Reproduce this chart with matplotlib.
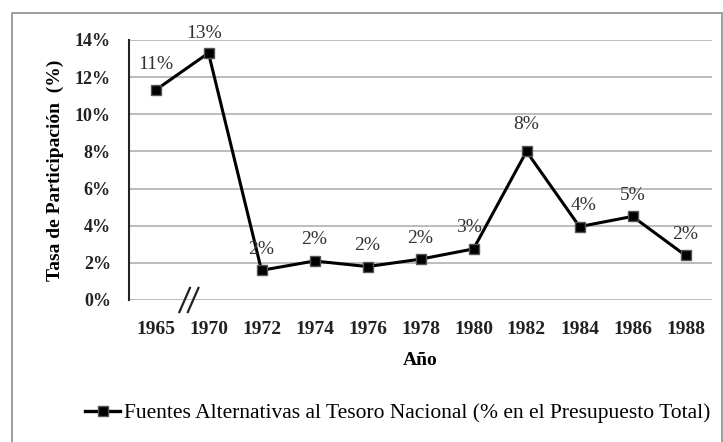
import matplotlib.pyplot as plt
from matplotlib.patches import Rectangle
from matplotlib.lines import Line2D

# datos
years = ['1965', '1970', '1972', '1974', '1976', '1978', '1980', '1982', '1984', '1986', '1988']
values = [11.3, 13.3, 1.6, 2.1, 1.8, 2.2, 2.75, 8.0, 3.95, 4.5, 2.4]
labels = ['11%', '13%', '2%', '2%', '2%', '2%', '3%', '8%', '4%', '5%', '2%']
yticks = [0, 2, 4, 6, 8, 10, 12, 14]

plt.rcParams['font.family'] = ['Liberation Serif', 'DejaVu Serif']

fig = plt.figure(figsize=(7.23, 4.42), dpi=100)
ax = fig.add_axes([129 / 723, 1 - 300 / 442, (712 - 129) / 723, 260 / 442])

# marco gris de la figura
fig.patches.append(Rectangle((12 / 723, -0.05), 710 / 723, 1 - 13 / 442 + 0.05,
                             transform=fig.transFigure, fill=False,
                             edgecolor='#8c8c8c', linewidth=1.2))

x = list(range(len(years)))
ax.plot(x, values, color='black', linewidth=2.2, marker='s', markersize=7,
        markerfacecolor='black', markeredgecolor='#555555', zorder=3)

offsets = [(0, 12), (-3, 8), (0, 9), (0, 9), (0, 9), (0, 9), (-3, 9), (0, 13), (3, 9), (0, 9), (0, 9)]
for i, (v, lab) in enumerate(zip(values, labels)):
    dx, dy = offsets[i]
    ax.annotate(lab, (i, v), xytext=(dx, dy), textcoords='offset points',
                ha='center', va='bottom', fontsize=14, color='#333333')

ax.set_xlim(-0.5, len(years) - 0.5)
ax.set_ylim(0, 14)
ax.set_xticks(x)
ax.set_xticklabels(years, fontsize=14, fontweight='bold', color='#222222')
ax.set_yticks(yticks)
ax.set_yticklabels([f'{t}%' for t in yticks], fontsize=13, fontweight='bold', color='#222222')
ax.tick_params(axis='x', length=0, pad=15)
ax.tick_params(axis='y', length=0, pad=13)
ax.grid(axis='y', color='#b0b0b0', linewidth=1.2)
ax.set_axisbelow(True)
for s in ['top', 'right', 'bottom']:
    ax.spines[s].set_visible(False)
ax.spines['left'].set_color('#222222')
ax.spines['left'].set_linewidth(1.5)

ax.set_xlabel('Año', fontsize=14, fontweight='bold', labelpad=10)
ax.set_ylabel('Tasa de Participación  (%)', fontsize=14, fontweight='bold', labelpad=8)

# marca de corte en el eje
for dx in (-0.08, 0.08):
    ax.plot([0.63 + dx - 0.1, 0.63 + dx + 0.1], [-0.65, 0.65], color='#222222',
            linewidth=1.6, clip_on=False, transform=ax.transData)

handle = Line2D([], [], color='black', linewidth=2.4, marker='s', markersize=7,
                markerfacecolor='black', markeredgecolor='#555555')
fig.legend([handle], ['Fuentes Alternativas al Tesoro Nacional (% en el Presupuesto Total)'],
           loc='center', bbox_to_anchor=(398 / 723, 1 - 413 / 442), frameon=False,
           fontsize=15.5, handlelength=1.6, handletextpad=0.2)

fig.savefig('out.png', dpi=100)
